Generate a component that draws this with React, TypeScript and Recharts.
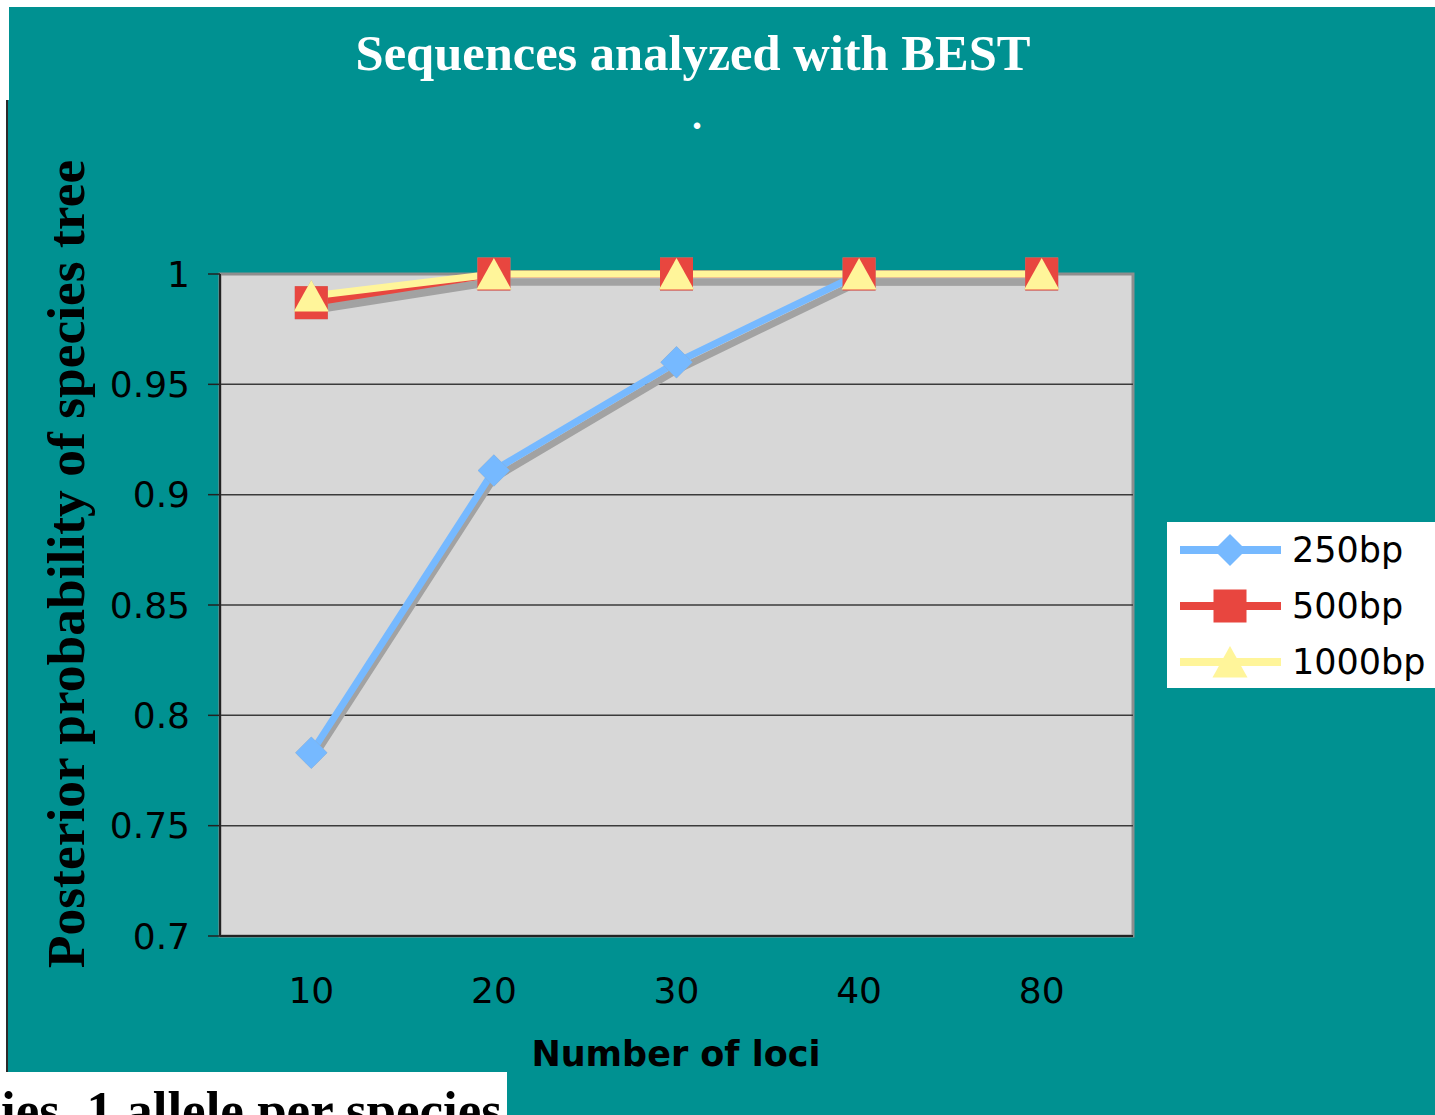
import React from 'react';
import { LineChart, Line, XAxis, YAxis, CartesianGrid, Legend } from 'recharts';

const categories = ['10', '20', '30', '40', '80'];
const bp250 = [0.783, 0.911, 0.96, 1, 1];
const bp500 = [0.987, 1, 1, 1, 1];
const bp1000 = [0.99, 1, 1, 1, 1];
const yTicks = [0.7, 0.75, 0.8, 0.85, 0.9, 0.95, 1];
const gridValues = [0.75, 0.8, 0.85, 0.9, 0.95];
const boundaryTicks = [0, 1, 2, 3, 4, 5];

const titleText = 'Sequences analyzed with BEST';
const xTitle = 'Number of loci';
const yTitle = 'Posterior probability of species tree';
const footText = 'ies, 1 allele per species';

const series = [
  { key: 'bp250', name: '250bp', color: '#76b9ff', shape: 'diamond' },
  { key: 'bp500', name: '500bp', color: '#e8463f', shape: 'square' },
  { key: 'bp1000', name: '1000bp', color: '#fff59a', shape: 'triangle' },
];

const data = categories.map((c, i) => ({ loci: c, bp250: bp250[i], bp500: bp500[i], bp1000: bp1000[i] }));

const SANS = "'DejaVu Sans', Verdana, sans-serif";
const SERIF = "'Liberation Serif', 'Times New Roman', serif";
const TEAL = '#009191';
const SHADOW = '#a2a2a2';

function Marker({ shape, cx, cy, color }: { shape: string; cx: number; cy: number; color: string }) {
  if (shape === 'diamond') {
    return <polygon points={`${cx},${cy - 16} ${cx + 16},${cy} ${cx},${cy + 16} ${cx - 16},${cy}`} fill={color} />;
  }
  if (shape === 'square') {
    return <rect x={cx - 16.5} y={cy - 16.5} width={33} height={33} fill={color} />;
  }
  return <polygon points={`${cx},${cy - 16} ${cx + 17.5},${cy + 15.5} ${cx - 17.5},${cy + 15.5}`} fill={color} />;
}

const makeDot = (shape: string, color: string, tag: string) => (props: any) => {
  const { cx, cy, index } = props;
  if (cx == null || cy == null) return <g key={`d-${tag}-${shape}-${index}`} />;
  return (
    <g key={`d-${tag}-${shape}-${index}`}>
      <Marker shape={shape} cx={cx} cy={cy} color={color} />
    </g>
  );
};

const LegendBox = () => (
  <div style={{ width: 268, height: 166, background: '#fff', boxSizing: 'border-box' }}>
    {series.map((s) => (
      <div key={s.key} style={{ height: 56, display: 'flex', alignItems: 'center' }}>
        <svg width={115} height={40} style={{ display: 'block' }}>
          <line x1={13} x2={114} y1={20} y2={20} stroke={s.color} strokeWidth={8} />
          <Marker shape={s.shape} cx={63} cy={20} color={s.color} />
        </svg>
        <span style={{ marginLeft: 10, fontFamily: SANS, fontSize: 35, color: '#000', lineHeight: 1 }}>{s.name}</span>
      </div>
    ))}
  </div>
);

export default function App() {
  return (
    <div style={{ position: 'absolute', left: 0, top: 0, width: 1435, height: 1115, overflow: 'hidden', background: '#fff' }}>
      <style>{`.recharts-cartesian-grid-bg{stroke:#8e8e8e;stroke-width:3px}.shadowline{transform:translateY(8px)}`}</style>
      <svg width={1435} height={1115} style={{ position: 'absolute', left: 0, top: 0 }}>
        <rect x={9} y={7} width={1426} height={95} fill={TEAL} />
        <rect x={8} y={100} width={1427} height={972} fill={TEAL} />
        <rect x={507} y={1072} width={928} height={43} fill={TEAL} />
        <line x1={7} x2={7} y1={100} y2={1072} stroke="#2a2a2a" strokeWidth={2} />
      </svg>
      <div style={{ position: 'absolute', left: 0, top: 0 }}>
        <LineChart width={1435} height={1115} data={data} margin={{ top: 274, right: 302, bottom: 108, left: 110 }}>
          <CartesianGrid fill="#d7d7d7" vertical={false} horizontalValues={gridValues} stroke="#3a3a3a" strokeWidth={1.5} strokeDasharray="" />
          <XAxis
            xAxisId="bound"
            type="number"
            domain={[0, 5]}
            allowDataOverflow
            ticks={boundaryTicks}
            tick={false}
            tickSize={12}
            height={1}
            axisLine={{ stroke: '#222', strokeWidth: 2 }}
            tickLine={{ stroke: '#222', strokeWidth: 1.5 }}
          />
          <XAxis
            xAxisId="cat"
            dataKey="loci"
            scale="band"
            interval={0}
            height={70}
            axisLine={false}
            tickLine={false}
            tickSize={12}
            tickMargin={28}
            tick={{ fill: '#000', fontSize: 36, fontFamily: SANS }}
          />
          <YAxis
            domain={[0.7, 1]}
            ticks={yTicks}
            interval={0}
            width={110}
            tickSize={12}
            tickMargin={18}
            axisLine={{ stroke: '#222', strokeWidth: 2 }}
            tickLine={{ stroke: '#222', strokeWidth: 1.5 }}
            tick={{ fill: '#000', fontSize: 36, fontFamily: SANS }}
          />
          {series.map((s) => (
            <Line
              key={`sh-${s.key}`}
              xAxisId="cat"
              className="shadowline"
              type="linear"
              dataKey={s.key}
              name={`${s.name} shadow`}
              legendType="none"
              stroke={SHADOW}
              strokeWidth={7}
              dot={makeDot(s.shape, SHADOW, 'sh')}
              activeDot={false}
              isAnimationActive={false}
            />
          ))}
          {series.map((s) => (
            <Line
              key={s.key}
              xAxisId="cat"
              type="linear"
              dataKey={s.key}
              name={s.name}
              stroke={s.color}
              strokeWidth={7}
              dot={makeDot(s.shape, s.color, 'main')}
              activeDot={false}
              isAnimationActive={false}
            />
          ))}
          <Legend
            layout="vertical"
            align="center"
            verticalAlign="middle"
            content={() => <LegendBox />}
            wrapperStyle={{ left: 1167, top: 522, width: 268, height: 166 }}
          />
        </LineChart>
      </div>
      <svg width={1435} height={1115} style={{ position: 'absolute', left: 0, top: 0, pointerEvents: 'none' }}>
        <text x={693} y={70} textAnchor="middle" fill="#fff" fontFamily={SERIF} fontWeight="bold" fontSize={50.5}>{titleText}</text>
        <text x={697} y={129} textAnchor="middle" fill="#fff" fontFamily={SERIF} fontWeight="bold" fontSize={40}>.</text>
        <text x={84} y={564} transform="rotate(-90 84 564)" textAnchor="middle" fill="#000" fontFamily={SERIF} fontWeight="bold" fontSize={53.5}>{yTitle}</text>
        <text x={676} y={1066} textAnchor="middle" fill="#000" fontFamily={SANS} fontWeight="bold" fontSize={35}>{xTitle}</text>
        <rect x={0} y={1072} width={507} height={43} fill="#fff" />
        <text x={502} y={1128} textAnchor="end" fill="#000" fontFamily={SERIF} fontWeight="bold" fontSize={53}>{footText}</text>
      </svg>
    </div>
  );
}
